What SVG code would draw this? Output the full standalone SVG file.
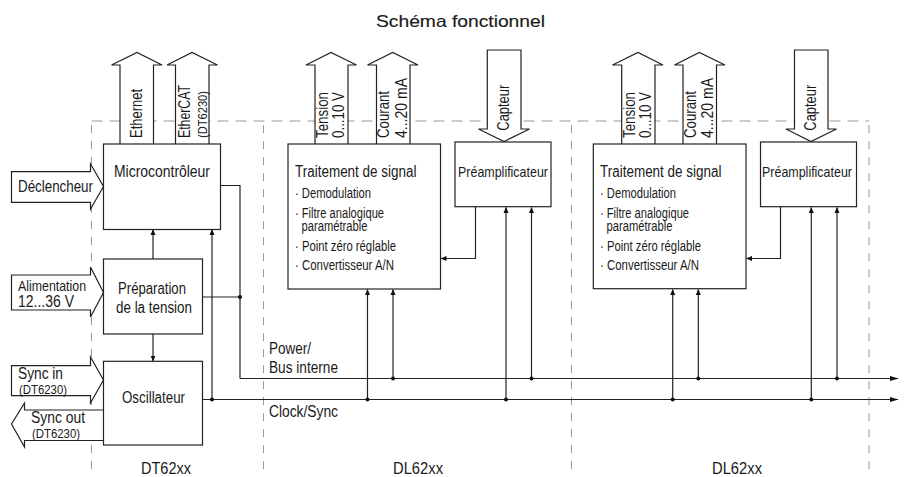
<svg xmlns="http://www.w3.org/2000/svg" width="905" height="477" viewBox="0 0 905 477">
<style>
text{font-family:"Liberation Sans",Arial,sans-serif;fill:#1a1a1a;font-size:16px}
.b{fill:#fff;stroke:#222;stroke-width:1.2}
.a{fill:#fff;stroke:#222;stroke-width:1.2}
.d{fill:none;stroke:#999;stroke-width:1}
.c{fill:none;stroke:#222;stroke-width:1.2}
.s{font-size:15px}
.x{font-size:14px}
.sm{font-size:12px}
</style>
<defs>
<marker id="ah" markerWidth="6" markerHeight="6" refX="5.5" refY="3" orient="auto" markerUnits="userSpaceOnUse"><path d="M0 0.5L6 3L0 5.5z" fill="#111"/></marker>
<marker id="al" markerWidth="9" markerHeight="6" refX="8" refY="3" orient="auto" markerUnits="userSpaceOnUse"><path d="M0 0.5L8.5 3L0 5.5z" fill="#111"/></marker>
</defs>
<rect x="0" y="0" width="905" height="477" fill="#fff"/>
<text x="376" y="26.700" textLength="169" lengthAdjust="spacingAndGlyphs" style="font-size:16.500px;stroke:#1a1a1a;stroke-width:.15">Schéma fonctionnel</text>
<g id="frame"><path class="d" stroke-dasharray="11 7" d="M91.500 121H869"/><path class="d" stroke-dasharray="8 8" d="M91.500 125V477M263.500 125V477M571.500 125V477M869 125V477"/></g>
<g id="connectors">
<path class="c" marker-end="url(#ah)" d="M153 259V229.500"/>
<path class="c" marker-end="url(#ah)" d="M153 334V361"/>
<path class="c" d="M220.500 185.500H240V378.500"/>
<path class="c" marker-end="url(#al)" d="M240 378.500H898"/>
<path class="c" d="M202.500 297H240"/>
<path class="c" marker-end="url(#al)" d="M202.500 399.500H898"/>
<path class="c" marker-end="url(#ah)" d="M212 399.500V229.500"/>
<path class="c" marker-end="url(#ah)" d="M475.500 206.500V258.500H441"/>
<path class="c" marker-end="url(#ah)" d="M780.500 206.500V258.500H746.500"/>
<path class="c" marker-end="url(#ah)" d="M367.500 399.500V289.500"/>
<path class="c" marker-end="url(#ah)" d="M393 378.500V289.500"/>
<path class="c" marker-end="url(#ah)" d="M506 399.500V207.500"/>
<path class="c" marker-end="url(#ah)" d="M531.500 378.500V207.500"/>
<path class="c" marker-end="url(#ah)" d="M672.700 399.500V289.500"/>
<path class="c" marker-end="url(#ah)" d="M698.300 378.500V289.500"/>
<path class="c" marker-end="url(#ah)" d="M811.300 399.500V207.500"/>
<path class="c" marker-end="url(#ah)" d="M837 378.500V207.500"/>
<g fill="#111"><circle cx="240" cy="297" r="2"/><circle cx="212" cy="399.500" r="2"/><circle cx="393" cy="378.500" r="2"/><circle cx="531.500" cy="378.500" r="2"/><circle cx="698.300" cy="378.500" r="2"/><circle cx="837" cy="378.500" r="2"/><circle cx="367.500" cy="399.500" r="2"/><circle cx="506" cy="399.500" r="2"/><circle cx="672.700" cy="399.500" r="2"/><circle cx="811.300" cy="399.500" r="2"/></g>
</g>
<g id="ethernet"><path class="a" d="M120 144V65H111.500L137 52.500L162 65H153.500V144"/><text transform="translate(141.700,138) rotate(-90)" textLength="49" lengthAdjust="spacingAndGlyphs">Ethernet</text></g>
<g id="ethercat"><path class="a" d="M175.500 144V65H167L192 52.500L217.500 65H209V144"/><text transform="translate(190,138) rotate(-90)" textLength="53" lengthAdjust="spacingAndGlyphs">EtherCAT</text><text transform="translate(206.500,138) rotate(-90)" class="sm" textLength="47" lengthAdjust="spacingAndGlyphs">(DT6230)</text></g>
<g id="declencheur"><path class="a" d="M90.500 164L103.500 186.500L90.500 209V202.300H11.500V171.700H90.500z"/><text x="18" y="191.700" textLength="75" lengthAdjust="spacingAndGlyphs">Déclencheur</text></g>
<g id="alimentation"><path class="a" d="M90.500 267L103.500 292.500L90.500 317V310H11.500V275H90.500z"/><text x="18" y="291" class="s" textLength="68" lengthAdjust="spacingAndGlyphs">Alimentation</text><text x="18" y="306.700" textLength="56" lengthAdjust="spacingAndGlyphs">12...36 V</text></g>
<g id="syncin"><path class="a" d="M90.500 357L103.500 380L90.500 403V395.700H11.500V365.700H90.500z"/><text x="18" y="378.700" textLength="45" lengthAdjust="spacingAndGlyphs">Sync in</text><text x="19" y="394" class="sm" textLength="48" lengthAdjust="spacingAndGlyphs">(DT6230)</text></g>
<g id="syncout"><path class="a" d="M103.500 410H24.500V403L11.500 424L24.500 447V440.500H103.500"/><text x="31" y="423.300" textLength="54" lengthAdjust="spacingAndGlyphs">Sync out</text><text x="32" y="438" class="sm" textLength="48" lengthAdjust="spacingAndGlyphs">(DT6230)</text></g>
<g id="microcontroleur"><rect class="b" x="103.500" y="144" width="117" height="85.500"/><text x="114" y="176.700" textLength="96" lengthAdjust="spacingAndGlyphs">Microcontrôleur</text></g>
<g id="preparation"><rect class="b" x="103.500" y="259" width="99" height="75"/><text x="118" y="294" textLength="68" lengthAdjust="spacingAndGlyphs">Préparation</text><text x="116" y="312.700" textLength="76" lengthAdjust="spacingAndGlyphs">de la tension</text></g>
<g id="oscillateur"><rect class="b" x="103.500" y="361.300" width="99" height="83.700"/><text x="122" y="402.700" textLength="63" lengthAdjust="spacingAndGlyphs">Oscillateur</text></g>
<g id="tension1"><path class="a" d="M315 144V65H306L331 52.500L356.500 65H348V144"/><text transform="translate(328,138) rotate(-90)" textLength="46" lengthAdjust="spacingAndGlyphs">Tension</text><text transform="translate(344,138) rotate(-90)" textLength="46" lengthAdjust="spacingAndGlyphs">0...10 V</text></g>
<g id="courant1"><path class="a" d="M376.500 144V65H367.500L392.700 52.500L418 65H410V144"/><text transform="translate(389,138) rotate(-90)" textLength="47" lengthAdjust="spacingAndGlyphs">Courant</text><text transform="translate(407,138) rotate(-90)" textLength="60" lengthAdjust="spacingAndGlyphs">4...20 mA</text></g>
<g id="capteur1"><path class="a" d="M487.300 50H521V129H529.500L504 141.500L478.500 129H487.300z"/><text transform="translate(509,130.700) rotate(-90)" textLength="46" lengthAdjust="spacingAndGlyphs">Capteur</text></g>
<g id="traitement1"><rect class="b" x="288" y="144" width="152.500" height="145"/><text x="295" y="176.700" textLength="121.500" lengthAdjust="spacingAndGlyphs">Traitement de signal</text><text x="295" y="198" class="x" textLength="76" lengthAdjust="spacingAndGlyphs">· Demodulation</text><text class="x"><tspan x="295" y="217.700" textLength="89" lengthAdjust="spacingAndGlyphs">· Filtre analogique</tspan><tspan x="301.500" y="230.500" textLength="66" lengthAdjust="spacingAndGlyphs">paramétrable</tspan></text><text x="295" y="250.700" class="x" textLength="101" lengthAdjust="spacingAndGlyphs">· Point zéro réglable</text><text x="295" y="270" class="x" textLength="99" lengthAdjust="spacingAndGlyphs">· Convertisseur A/N</text></g>
<g id="preamp1"><rect class="b" x="455" y="142" width="96" height="64.700"/><text x="458" y="176.700" class="s" textLength="90" lengthAdjust="spacingAndGlyphs">Préamplificateur</text></g>
<g id="tension2"><path class="a" d="M621.700 144V65H612.500L638 52.500L663 65H655V144"/><text transform="translate(635,138) rotate(-90)" textLength="46" lengthAdjust="spacingAndGlyphs">Tension</text><text transform="translate(650.500,138) rotate(-90)" textLength="46" lengthAdjust="spacingAndGlyphs">0...10 V</text></g>
<g id="courant2"><path class="a" d="M683 144V65H674.500L699.300 52.500L725 65H716.500V144"/><text transform="translate(696,138) rotate(-90)" textLength="47" lengthAdjust="spacingAndGlyphs">Courant</text><text transform="translate(713,138) rotate(-90)" textLength="60" lengthAdjust="spacingAndGlyphs">4...20 mA</text></g>
<g id="capteur2"><path class="a" d="M794.500 50H828V129H836.500L811 141.500L786 129H794.500z"/><text transform="translate(816,130.700) rotate(-90)" textLength="46" lengthAdjust="spacingAndGlyphs">Capteur</text></g>
<g id="traitement2"><rect class="b" x="593.300" y="144" width="152.700" height="144.700"/><text x="600" y="176.700" textLength="121.500" lengthAdjust="spacingAndGlyphs">Traitement de signal</text><text x="600" y="198" class="x" textLength="76" lengthAdjust="spacingAndGlyphs">· Demodulation</text><text class="x"><tspan x="600" y="217.700" textLength="89" lengthAdjust="spacingAndGlyphs">· Filtre analogique</tspan><tspan x="606.500" y="230.500" textLength="66" lengthAdjust="spacingAndGlyphs">paramétrable</tspan></text><text x="600" y="250.700" class="x" textLength="101" lengthAdjust="spacingAndGlyphs">· Point zéro réglable</text><text x="600" y="270" class="x" textLength="99" lengthAdjust="spacingAndGlyphs">· Convertisseur A/N</text></g>
<g id="preamp2"><rect class="b" x="760.500" y="142" width="96" height="64.700"/><text x="762" y="176.700" class="s" textLength="90" lengthAdjust="spacingAndGlyphs">Préamplificateur</text></g>
<text x="269" y="354" textLength="42" lengthAdjust="spacingAndGlyphs">Power/</text>
<text x="269" y="372.700" textLength="69" lengthAdjust="spacingAndGlyphs">Bus interne</text>
<text x="269" y="417.300" textLength="69" lengthAdjust="spacingAndGlyphs">Clock/Sync</text>
<text x="141" y="473.500" textLength="50" lengthAdjust="spacingAndGlyphs">DT62xx</text>
<text x="393" y="473.500" textLength="50" lengthAdjust="spacingAndGlyphs">DL62xx</text>
<text x="712" y="473.500" textLength="50" lengthAdjust="spacingAndGlyphs">DL62xx</text>
</svg>
